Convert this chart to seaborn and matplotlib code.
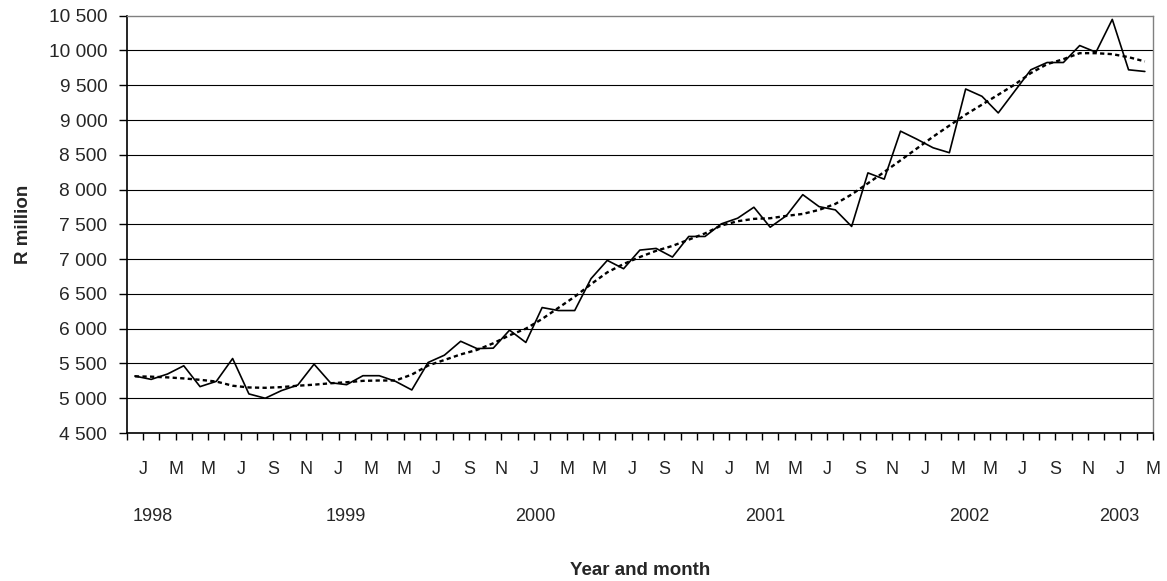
import numpy as np
import pandas as pd
import seaborn as sns
import matplotlib.pyplot as plt
from matplotlib.ticker import FuncFormatter, FixedLocator

# monthly values, Jan 1998 .. Mar 2003 (R million)
actual = [
    5319, 5271, 5348, 5467, 5167, 5243, 5571, 5062, 5000, 5110, 5190, 5490,
    5224, 5195, 5324, 5324, 5243, 5119, 5514, 5619, 5819, 5714, 5720, 5979,
    5802, 6304, 6261, 6261, 6719, 6982, 6862, 7130, 7154, 7030, 7326, 7326,
    7507, 7588, 7746, 7459, 7626, 7927, 7755, 7708, 7470, 8240, 8150, 8840,
    8725, 8601, 8530, 9446, 9341, 9102, 9412, 9722, 9827, 9827, 10071, 9975,
    10447, 9722, 9698,
]
trend = [
    5315, 5310, 5300, 5285, 5265, 5240, 5180, 5155, 5150, 5160, 5180, 5195,
    5215, 5230, 5250, 5255, 5255, 5340, 5470, 5550, 5630, 5695, 5790, 5905,
    6000, 6140, 6300, 6460, 6640, 6810, 6930, 7030, 7120, 7190, 7280, 7370,
    7483, 7545, 7579, 7588, 7622, 7650, 7708, 7794, 7930, 8090, 8253, 8420,
    8590, 8760, 8920, 9078, 9221, 9364, 9508, 9675, 9803, 9875, 9961, 9961,
    9947, 9904, 9842,
]
month_initials = ["J", "F", "M", "A", "M", "J", "J", "A", "S", "O", "N", "D"]
years = ["1998", "1999", "2000", "2001", "2002", "2003"]
year_label_x = [1.07, 12.95, 24.6, 38.7, 51.2, 60.4]

n = len(actual)
df = pd.DataFrame({"month": np.arange(n), "actual": actual, "trend": trend})

sns.set_style("white")
plt.rcParams["font.family"] = ["Liberation Sans", "DejaVu Sans"]

fig = plt.figure(figsize=(11.67, 5.81), dpi=100)
ax = fig.add_axes([0.1086, 0.2547, 0.8794, 0.7183])

sns.lineplot(data=df, x="month", y="actual", color="black", lw=1.2, ax=ax)
sns.lineplot(data=df, x="month", y="trend", color="black", lw=1.7,
             linestyle=(0, (1.8, 1.4)), ax=ax)

ax.set_xlim(-0.5, n - 0.5)
ax.set_ylim(4500, 10500)

# y axis, space as thousands separator
ax.set_yticks(np.arange(4500, 10501, 500))
ax.yaxis.set_major_formatter(FuncFormatter(lambda v, p: f"{v:,.0f}".replace(",", " ")))
ax.grid(axis="y", color="black", lw=0.8)
ax.get_ygridlines()[-1].set_visible(False)
ax.tick_params(axis="y", direction="out", length=6, width=1, color="black",
               labelsize=13.8, pad=8, left=True)

# x axis: ticks between months, every second month labelled
bounds = np.arange(n + 1) - 0.5
labels = []
for b in bounds:
    k = int(b - 0.5)
    labels.append(month_initials[k % 12] if k >= 0 and k % 2 == 0 else "")
ax.xaxis.set_major_locator(FixedLocator(bounds))
ax.set_xticklabels(labels)
ax.tick_params(axis="x", direction="out", length=5, width=1, color="black",
               labelsize=13, pad=15, bottom=True)

for x, y in zip(year_label_x, years):
    ax.text(x, -0.2, y, transform=ax.get_xaxis_transform(), ha="center",
            va="center", fontsize=13)

ax.set_xlabel("Year and month", fontsize=13.5, fontweight="bold")
ax.xaxis.set_label_coords(0.5, -0.31)
ax.set_ylabel("R million", fontsize=13.5, fontweight="bold")
ax.yaxis.set_label_coords(-0.092, 0.5)

for s in ["left", "bottom"]:
    ax.spines[s].set_color("black")
    ax.spines[s].set_linewidth(1.2)
for s in ["top", "right"]:
    ax.spines[s].set_color("#808080")
    ax.spines[s].set_linewidth(1.0)

plt.savefig("out.png", dpi=100)
